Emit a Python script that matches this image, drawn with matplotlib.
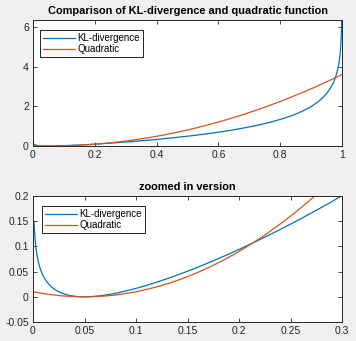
import numpy as np
import matplotlib
matplotlib.use("Agg")
import matplotlib.pyplot as plt

plt.rcParams['font.family'] = ['Liberation Sans', 'DejaVu Sans']

# Bernoulli KL-divergence D(q || x) against a quadratic bound c*(x - q)^2
q = 0.05
c = 4.0
x_step = 0.001
x = np.arange(x_step, 1.0, x_step)

kl = q * np.log(q / x) + (1 - q) * np.log((1 - q) / (1 - x))
quad = c * (x - q) ** 2

blue = (0.0, 0.447, 0.741)
orange = (0.85, 0.325, 0.098)

fig = plt.figure(figsize=(3.56, 3.41), dpi=100)
fig.patch.set_facecolor((0.94, 0.94, 0.94))

W, H = 356.0, 341.0
def box(l, t, r, b):
    return [l / W, 1 - b / H, (r - l) / W, (b - t) / H]

ax1 = fig.add_axes(box(33, 20, 342, 146))
ax2 = fig.add_axes(box(33, 196, 342, 322))

def style(ax):
    ax.tick_params(direction='in', top=True, right=True, labelsize=7.5,
                   length=3, width=0.6, pad=3, colors=(0.15, 0.15, 0.15))
    for s in ax.spines.values():
        s.set_linewidth(0.7)
        s.set_color((0.15, 0.15, 0.15))

def add_legend(ax, anchor):
    leg = ax.legend(loc='upper left', fontsize=7, handlelength=3.3,
                    borderpad=0.3, labelspacing=0.15, handletextpad=0.25,
                    borderaxespad=0, fancybox=False, framealpha=1,
                    edgecolor='k', bbox_to_anchor=anchor)
    leg.get_frame().set_linewidth(0.6)

# full range
ax1.plot(x, kl, color=blue, lw=0.9, label='KL-divergence')
ax1.plot(x, quad, color=orange, lw=0.9, label='Quadratic')
ax1.set_xlim(0, 1)
ax1.set_ylim(0, kl.max())
ax1.set_xticks(np.arange(0, 1.01, 0.2))
ax1.set_xticklabels(['0', '0.2', '0.4', '0.6', '0.8', '1'])
ax1.set_yticks([0, 2, 4, 6])
ax1.set_title('Comparison of KL-divergence and quadratic function',
              fontsize=7.9, fontweight='bold', pad=4)
style(ax1)
add_legend(ax1, (0.022, 0.92))

# zoomed range near the minimum
ax2.plot(x, kl, color=blue, lw=0.9, label='KL-divergence')
ax2.plot(x, quad, color=orange, lw=0.9, label='Quadratic')
ax2.set_xlim(0, 0.3)
ax2.set_ylim(-0.05, 0.2)
ax2.set_xticks(np.arange(0, 0.301, 0.05))
ax2.set_xticklabels(['0', '0.05', '0.1', '0.15', '0.2', '0.25', '0.3'])
ax2.set_yticks(np.arange(-0.05, 0.201, 0.05))
ax2.set_yticklabels(['-0.05', '0', '0.05', '0.1', '0.15', '0.2'])
ax2.set_title('zoomed in version', fontsize=7.9, fontweight='bold', pad=4)
style(ax2)
add_legend(ax2, (0.029, 0.92))

fig.savefig('out.png', dpi=100, facecolor=fig.get_facecolor())
